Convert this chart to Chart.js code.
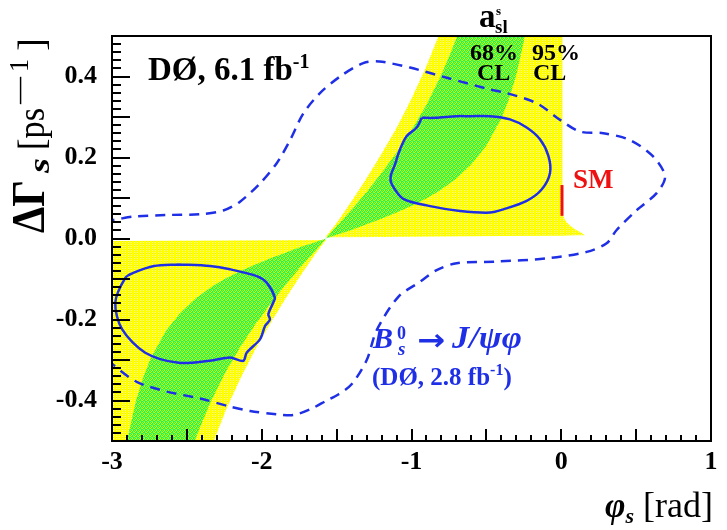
<!DOCTYPE html>
<html><head><meta charset="utf-8">
<script src="https://cdn.jsdelivr.net/npm/chart.js@4/dist/chart.umd.min.js"></script>
<style>html,body{margin:0;padding:0;background:#fff;}#wrap{position:relative;width:727px;height:530px;}#ov{position:absolute;left:0;top:0;pointer-events:none;}</style>
</head><body><div id="wrap"><canvas id="c" width="727" height="530"></canvas><canvas id="ov" width="727" height="530"></canvas></div>
<script>
// ---- axis ticks ----
const xTickValues = [-3, -2, -1, 0, 1];
const xTickLabels = ['-3', '-2', '-1', '0', '1'];
const yTickValues = [-0.4, -0.2, 0, 0.2, 0.4];
const yTickLabels = ['-0.4', '-0.2', '0.0', '0.2', '0.4'];

// ---- a_sl 95% CL band (yellow), phi_s [rad] / DeltaGamma_s [ps^-1] ----
const yellowUpperPhi = [-1.575, -1.2, -0.8, -0.4, 0.0, 0.10, 0.159, 0.13, 0.092, 0.055, 0.025, 0.012, 0.008, 0.008, -0.82, -0.9, -1.0, -1.1, -1.2, -1.3, -1.4, -1.5, -1.575];
const yellowUpperDG  = [0.003, 0.004, 0.005, 0.006, 0.007, 0.008, 0.008, 0.015, 0.023, 0.033, 0.045, 0.058, 0.07, 0.5, 0.5, 0.426, 0.345, 0.273, 0.209, 0.149, 0.092, 0.038, 0.003];
const yellowLowerPhi = [-3.0, -1.571, -1.642, -1.742, -1.842, -1.942, -2.042, -2.142, -2.242, -2.32, -3.0];
const yellowLowerDG  = [-0.006, -0.004, -0.038, -0.092, -0.149, -0.209, -0.273, -0.345, -0.426, -0.5, -0.5];

// ---- a_sl 68% CL band (green) ----
const greenUpperPhi = [-1.571, -1.5, -1.4, -1.3, -1.2, -1.1, -1.0, -0.9, -0.8, -0.75, -0.694, -0.242, -0.3, -0.35, -0.4, -0.5, -0.6, -0.7, -0.8, -0.9, -1.0, -1.1, -1.2, -1.3, -1.4, -1.5, -1.571];
const greenUpperDG  = [0, 0.030, 0.071, 0.115, 0.162, 0.212, 0.267, 0.330, 0.405, 0.448, 0.5, 0.5, 0.404, 0.343, 0.296, 0.229, 0.183, 0.148, 0.121, 0.099, 0.080, 0.064, 0.049, 0.035, 0.021, 0.009, 0];
const greenLowerPhi = [-1.571, -1.642, -1.742, -1.842, -1.942, -2.042, -2.142, -2.242, -2.342, -2.442, -2.542, -2.642, -2.742, -2.792, -2.842, -2.900, -2.448, -2.392, -2.342, -2.242, -2.142, -2.042, -1.942, -1.842, -1.742, -1.642, -1.571];
const greenLowerDG  = [0, -0.009, -0.021, -0.035, -0.049, -0.064, -0.080, -0.099, -0.121, -0.148, -0.183, -0.229, -0.296, -0.343, -0.404, -0.5, -0.5, -0.448, -0.405, -0.330, -0.267, -0.212, -0.162, -0.115, -0.071, -0.030, 0];

// ---- combined 68% CL contours (solid blue) ----
const contourUpperPhi = [-0.932, -0.84, -0.70, -0.609, -0.476, -0.342, -0.231, -0.142, -0.086, -0.075, -0.131, -0.231, -0.387, -0.476, -0.676, -0.876, -1.055, -1.132, -1.139, -1.110, -1.099, -1.077, -1.032, -0.965, -0.932];
const contourUpperDG  = [0.298, 0.298, 0.302, 0.302, 0.302, 0.294, 0.274, 0.245, 0.204, 0.162, 0.121, 0.093, 0.072, 0.064, 0.068, 0.080, 0.098, 0.134, 0.154, 0.183, 0.196, 0.220, 0.253, 0.274, 0.298];
const contourLowerPhi = [-2.555, -2.346, -2.212, -2.034, -1.967, -1.912, -1.923, -1.956, -1.945, -1.978, -2.012, -2.101, -2.123, -2.212, -2.346, -2.555, -2.778, -2.933, -2.978, -2.911, -2.858, -2.72, -2.555];
const contourLowerDG  = [-0.064, -0.068, -0.076, -0.093, -0.109, -0.146, -0.158, -0.187, -0.200, -0.216, -0.249, -0.282, -0.302, -0.294, -0.302, -0.307, -0.282, -0.224, -0.158, -0.097, -0.085, -0.068, -0.064];

// ---- B_s -> J/psi phi, 2.8 fb^-1 contour (dashed blue) ----
const jpsiPhi = [-3.05, -2.99, -2.858, -2.635, -2.412, -2.257, -2.145, -2.012, -1.900, -1.811, -1.722, -1.611, -1.477, -1.322, -1.216, -1.010, -0.765, -0.476, -0.364, -0.164, -0.008, 0.125, 0.281, 0.459, 0.615, 0.693, 0.637, 0.504, 0.370, 0.303, 0.170, -0.097, -0.431, -0.698, -0.832, -0.943, -1.088, -1.232, -1.299, -1.40, -1.489, -1.566, -1.678, -1.789, -1.900, -2.078, -2.212, -2.412, -2.635, -2.835, -2.991, -3.05];
const jpsiDG  = [0.045, 0.046, 0.054, 0.058, 0.060, 0.069, 0.091, 0.136, 0.186, 0.243, 0.309, 0.359, 0.400, 0.433, 0.437, 0.422, 0.397, 0.368, 0.359, 0.334, 0.293, 0.264, 0.260, 0.243, 0.202, 0.153, 0.112, 0.070, 0.021, -0.012, -0.033, -0.049, -0.057, -0.061, -0.078, -0.107, -0.144, -0.226, -0.300, -0.36, -0.385, -0.400, -0.422, -0.436, -0.434, -0.426, -0.415, -0.395, -0.378, -0.354, -0.312, -0.29];

// ---- Standard Model prediction ----
const smPhi = [0.005, 0.005];
const smDG  = [0.056, 0.132];

const SERIF = '"Liberation Serif", "DejaVu Serif", serif';
const BLUE = '#1e2fe6';
const pts = (xs, ys) => xs.map((x, i) => ({ x: x, y: ys[i] }));

const canvas = document.getElementById('c');
const ctx0 = canvas.getContext('2d');
function makePattern(rows) {
  const h = rows.length, w = rows[0].length;
  const c = document.createElement('canvas'); c.width = w; c.height = h;
  const g = c.getContext('2d');
  for (let j = 0; j < h; j++) for (let i = 0; i < w; i++) { g.fillStyle = rows[j][i]; g.fillRect(i, j, 1, 1); }
  return ctx0.createPattern(c, 'repeat');
}
const Y1 = '#ffff00', Y2 = '#ffffa8', Y3 = '#f4f400';
const yellowPat = makePattern([[Y1, Y1, Y2], [Y1, Y1, Y3], [Y1, Y1, Y2], [Y1, Y1, Y1]]);
const G1 = '#40f020', G2 = '#80ff50', G3 = '#d0ff20', G4 = '#50ffa0';
const greenPat = makePattern([[G1, G2, G3, G1], [G2, G1, G1, G4], [G3, G1, G2, G1], [G1, G4, G1, G3]]);

function B(s) { return 'bold ' + s + 'px ' + SERIF; }
function BI(s) { return 'italic bold ' + s + 'px ' + SERIF; }
function N(s) { return s + 'px ' + SERIF; }

function rich(ctx, x, y, segs, align, color) {
  const widths = segs.map(s => { ctx.font = s.f; return ctx.measureText(s.t).width; });
  const total = widths.reduce((a, b) => a + b, 0);
  let cx = align === 'right' ? x - total : (align === 'center' ? x - total / 2 : x);
  segs.forEach((s, i) => {
    ctx.font = s.f; ctx.fillStyle = s.c || color || '#000';
    ctx.fillText(s.t, cx, y + (s.dy || 0));
    cx += widths[i];
  });
}
function fitText(ctx, t, font, x, y, w) {
  ctx.font = font;
  const m = ctx.measureText(t).width;
  ctx.save(); ctx.translate(x, y); ctx.scale(w / m, 1); ctx.fillText(t, 0, 0); ctx.restore();
}

// inward ticks on the bottom and left axes, placed with the chart's own scales
function drawTicks(ctx, chart) {
  const a = chart.chartArea, xs = chart.scales.x, ys = chart.scales.y;
  ctx.save();
  ctx.setTransform(1, 0, 0, 1, 0, 0);
  ctx.globalAlpha = 1; ctx.globalCompositeOperation = 'source-over';
  ctx.fillStyle = '#000';
  for (let i = -30; i <= 10; i++) {
    const px = Math.round(xs.getPixelForValue(i / 10));
    const L = (i % 5 === 0) ? 12 : 6;
    ctx.fillRect(px - 1, a.bottom - L, 2, L);
  }
  for (let i = -25; i <= 25; i++) {
    const py = Math.round(ys.getPixelForValue(i * 0.02));
    const L = (i % 5 === 0) ? 18 : 9;
    ctx.fillRect(a.left, py - 1, L, 2);
  }
  ctx.strokeStyle = '#000'; ctx.lineWidth = 2; ctx.setLineDash([]);
  ctx.strokeRect(a.left, a.top, a.right - a.left, a.bottom - a.top);
  ctx.restore();
}

const decor = {
  id: 'decor',
  afterDraw(chart) {
    const ctx = chart.ctx;
    drawTicks(ctx, chart);
    ctx.save();
    ctx.textBaseline = 'alphabetic'; ctx.textAlign = 'left';
    rich(ctx, 148, 80, [{ t: 'DØ, 6.1 fb', f: B(33) }, { t: '-1', f: B(20), dy: -12 }], 'left', '#000');
    ctx.fillStyle = '#000';
    ctx.font = B(33); ctx.fillText('a', 479, 27);
    ctx.font = B(19); ctx.fillText('sl', 495, 33);
    ctx.font = B(13); ctx.fillText('s', 496, 15);
    ctx.font = B(24);
    ctx.fillText('68%', 470, 60); ctx.fillText('CL', 477, 80);
    ctx.fillText('95%', 532, 60); ctx.fillText('CL', 533, 80);
    ctx.fillStyle = '#ee1111'; ctx.font = B(27); ctx.fillText('SM', 573, 188);
    ctx.fillStyle = BLUE;
    ctx.font = BI(30); ctx.fillText('B', 373, 348);
    ctx.font = B(18); ctx.fillText('0', 397, 339);
    ctx.font = BI(19); ctx.fillText('s', 398, 355);
    fitText(ctx, '→', 'bold 30px "DejaVu Sans", sans-serif', 417, 350, 28);
    fitText(ctx, 'J/ψφ', BI(31), 452, 348, 70);
    rich(ctx, 372, 385, [{ t: '(DØ, 2.8 fb', f: B(25) }, { t: '-1', f: B(16), dy: -10 }, { t: ')', f: B(25) }], 'left', BLUE);
    rich(ctx, 713, 517, [{ t: 'φ', f: BI(35) }, { t: 's', f: BI(22), dy: 6 }, { t: ' [rad]', f: N(36) }], 'right', '#000');
    ctx.fillStyle = '#000';
    ctx.translate(44, 0); ctx.rotate(-Math.PI / 2);
    fitText(ctx, 'ΔΓ', B(46), -233, 0, 53);
    fitText(ctx, 's', BI(30), -173, 5, 15);
    fitText(ctx, '[ps', N(37), -150, 0, 42);
    fitText(ctx, '—', N(30), -104, -16, 27);
    fitText(ctx, '1', N(28), -72, -16, 13);
    fitText(ctx, ']', N(37), -51, 0, 13);
    ctx.restore();
  }
};

function band(data, pattern, order) {
  return { data: data, backgroundColor: pattern, borderColor: 'rgba(0,0,0,0)', borderWidth: 0, pointRadius: 0, fill: 'shape', tension: 0, order: order };
}
function contour(data, dashed, order) {
  return { data: data, borderColor: BLUE, borderWidth: 2.5, borderDash: dashed ? [10, 7] : [], pointRadius: 0, fill: false, tension: 0.3, order: order };
}

const chart = new Chart(canvas, {
  type: 'line',
  data: {
    datasets: [
      { data: pts(smPhi, smDG), borderColor: '#ee1111', borderWidth: 3, pointRadius: 0, fill: false, order: 0 },
      contour(pts(contourUpperPhi, contourUpperDG), false, 1),
      contour(pts(contourLowerPhi, contourLowerDG), false, 1),
      contour(pts(jpsiPhi, jpsiDG), true, 1),
      band(pts(greenUpperPhi, greenUpperDG), greenPat, 3),
      band(pts(greenLowerPhi, greenLowerDG), greenPat, 3),
      band(pts(yellowUpperPhi, yellowUpperDG), yellowPat, 4),
      band(pts(yellowLowerPhi, yellowLowerDG), yellowPat, 4)
    ]
  },
  options: {
    responsive: false, animation: false, devicePixelRatio: 1, events: [],
    layout: { padding: { top: 36, right: 16, left: 0, bottom: 0 } },
    plugins: { legend: { display: false }, tooltip: { enabled: false } },
    scales: {
      x: {
        type: 'linear', min: -3, max: 1,
        grid: { display: false, drawTicks: false }, border: { display: false },
        afterBuildTicks: s => { s.ticks = xTickValues.map(v => ({ value: v })); },
        afterFit: s => { s.height = 89; },
        ticks: { autoSkip: false, maxRotation: 0, padding: 6, color: '#000', font: { family: SERIF, size: 26, weight: 'bold' },
          callback: (v, i) => xTickLabels[i] }
      },
      y: {
        type: 'linear', min: -0.5, max: 0.5,
        grid: { display: false, drawTicks: false }, border: { display: false },
        afterBuildTicks: s => { s.ticks = yTickValues.map(v => ({ value: v })); },
        afterFit: s => { s.width = 112; },
        ticks: { autoSkip: false, padding: 15, color: '#000', font: { family: SERIF, size: 26, weight: 'bold' },
          callback: (v, i) => yTickLabels[i] }
      }
    }
  },
  plugins: [decor]
});
// overlay copy of the axis ticks, on top of the chart canvas
drawTicks(document.getElementById('ov').getContext('2d'), chart);
</script>
</body></html>
